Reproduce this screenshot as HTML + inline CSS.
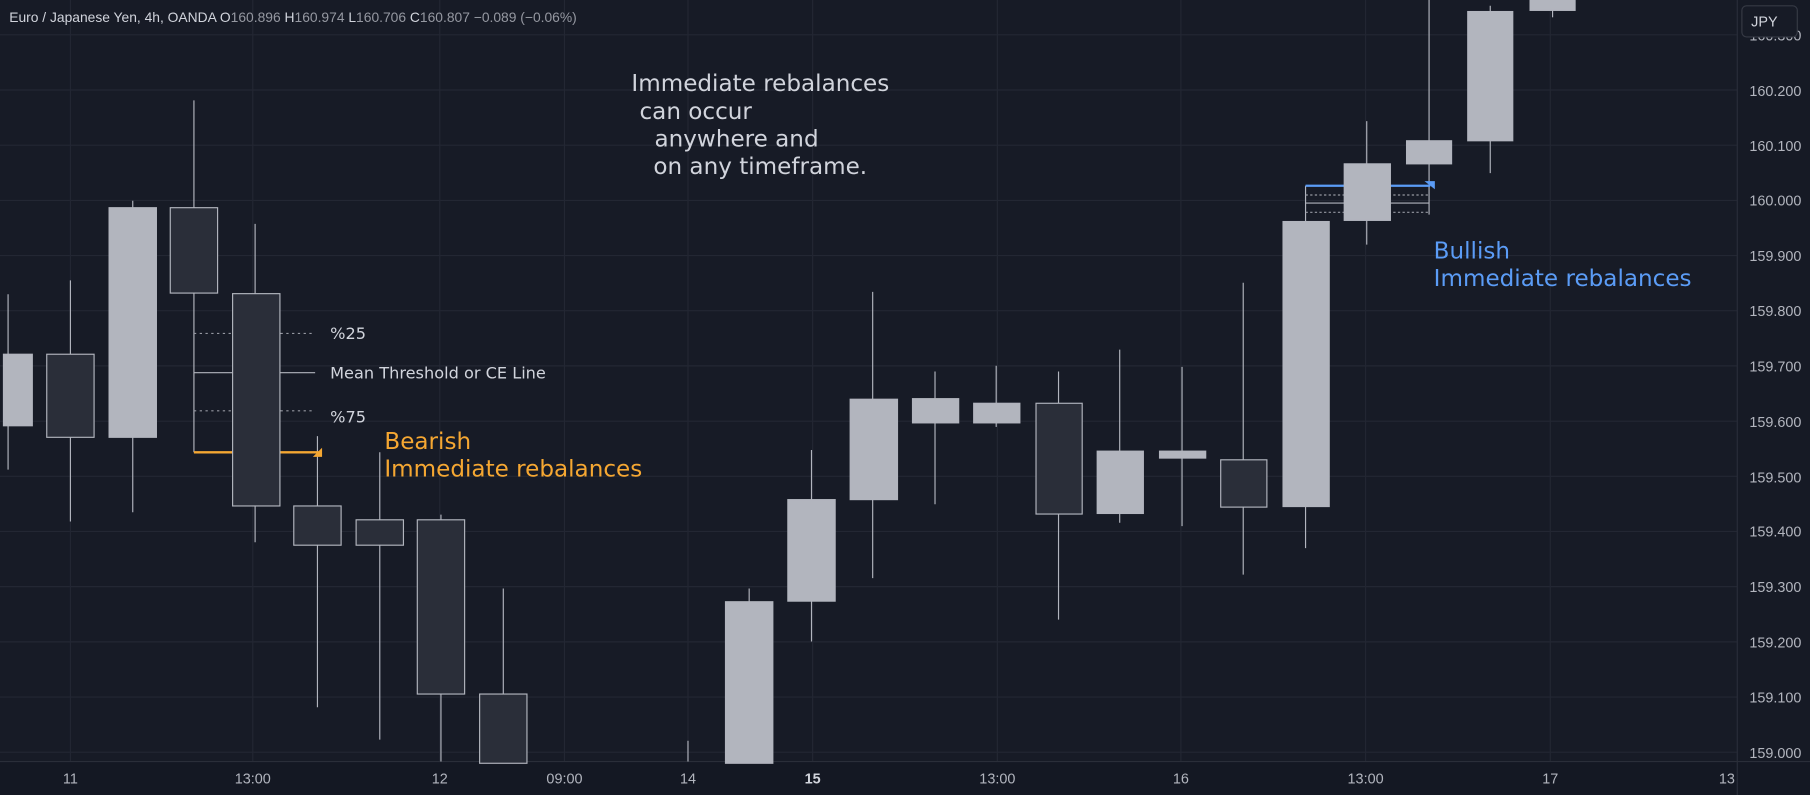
<!DOCTYPE html>
<html><head><meta charset="utf-8"><style>
html,body{margin:0;padding:0;background:#161a25;overflow:hidden}
svg{display:block}
text{font-family:"Liberation Sans","DejaVu Sans",sans-serif}
.dj{font-family:"DejaVu Sans","Liberation Sans",sans-serif}
</style></head><body>
<svg width="1810" height="795" viewBox="0 0 1568 689" preserveAspectRatio="none" xmlns="http://www.w3.org/2000/svg">
<rect x="0" y="0" width="1568" height="689" fill="#171b26"/>
<rect x="1505" y="0" width="63" height="689" fill="#161a25"/>
<rect x="0" y="660" width="1568" height="29" fill="#141823"/>
<g stroke="#232733" stroke-width="1">
<line x1="0" x2="1505" y1="30.2" y2="30.2"/><line x1="0" x2="1505" y1="78" y2="78"/><line x1="0" x2="1505" y1="125.8" y2="125.8"/><line x1="0" x2="1505" y1="173.7" y2="173.7"/><line x1="0" x2="1505" y1="221.5" y2="221.5"/><line x1="0" x2="1505" y1="269.3" y2="269.3"/><line x1="0" x2="1505" y1="317.1" y2="317.1"/><line x1="0" x2="1505" y1="365" y2="365"/><line x1="0" x2="1505" y1="412.8" y2="412.8"/><line x1="0" x2="1505" y1="460.6" y2="460.6"/><line x1="0" x2="1505" y1="508.4" y2="508.4"/><line x1="0" x2="1505" y1="556.3" y2="556.3"/><line x1="0" x2="1505" y1="604.1" y2="604.1"/><line x1="0" x2="1505" y1="651.9" y2="651.9"/>
<line x1="61" x2="61" y1="0" y2="660"/><line x1="219" x2="219" y1="0" y2="660"/><line x1="381" x2="381" y1="0" y2="660"/><line x1="489" x2="489" y1="0" y2="660"/><line x1="596" x2="596" y1="0" y2="660"/><line x1="704" x2="704" y1="0" y2="660"/><line x1="864" x2="864" y1="0" y2="660"/><line x1="1023" x2="1023" y1="0" y2="660"/><line x1="1183" x2="1183" y1="0" y2="660"/><line x1="1343" x2="1343" y1="0" y2="660"/>
</g>
<line x1="0" x2="1568" y1="660" y2="660" stroke="#2a2e39"/>
<line x1="1505" x2="1505" y1="0" y2="689" stroke="#2a2e39"/>
<g stroke="#b2b5be" stroke-width="1">
<line x1="7" x2="7" y1="255" y2="407"/>
<line x1="61" x2="61" y1="243" y2="452"/>
<line x1="115" x2="115" y1="174" y2="444"/>
<line x1="168" x2="168" y1="87" y2="392"/>
<line x1="221" x2="221" y1="194" y2="470"/>
<line x1="275" x2="275" y1="378" y2="613"/>
<line x1="329" x2="329" y1="392" y2="641"/>
<line x1="382" x2="382" y1="446" y2="660"/>
<line x1="436" x2="436" y1="510" y2="660"/>
<line x1="596" x2="596" y1="642" y2="660"/>
<line x1="649" x2="649" y1="510" y2="660"/>
<line x1="703" x2="703" y1="390" y2="556"/>
<line x1="756" x2="756" y1="253" y2="501"/>
<line x1="810" x2="810" y1="322" y2="437"/>
<line x1="863" x2="863" y1="317" y2="370"/>
<line x1="917" x2="917" y1="322" y2="537"/>
<line x1="970" x2="970" y1="303" y2="453"/>
<line x1="1024" x2="1024" y1="318" y2="456"/>
<line x1="1077" x2="1077" y1="245" y2="498"/>
<line x1="1131" x2="1131" y1="161" y2="475"/>
<line x1="1184" x2="1184" y1="105" y2="212"/>
<line x1="1238" x2="1238" y1="0" y2="186"/>
<line x1="1291" x2="1291" y1="5" y2="150"/>
<line x1="1345" x2="1345" y1="0" y2="15"/>
</g>
<g stroke="#9598a1" stroke-width="1">
<line x1="168" x2="273" y1="289" y2="289" stroke-dasharray="2,3"/>
<line x1="168" x2="273" y1="323" y2="323" stroke="#b2b5be"/>
<line x1="168" x2="273" y1="356" y2="356" stroke-dasharray="2,3"/>
<line x1="1131" x2="1238" y1="169" y2="169" stroke-dasharray="2,2"/>
<line x1="1131" x2="1238" y1="176" y2="176" stroke="#b2b5be"/>
<line x1="1131" x2="1238" y1="184" y2="184" stroke-dasharray="2,2"/>
</g>
<line x1="168" x2="276" y1="392" y2="392" stroke="#f5a732" stroke-width="2"/>
<polygon points="271,396 279,388 279,396" fill="#f5a732"/>
<line x1="1131" x2="1239" y1="161" y2="161" stroke="#5b9cf6" stroke-width="2"/>
<polygon points="1234,157 1243,157 1243,164" fill="#5b9cf6"/>
<g stroke="#b2b5be" stroke-width="1">
<rect x="3" y="307" width="25" height="62" fill="#b2b5be"/>
<rect x="40.5" y="307" width="41" height="72" fill="#2a2e39"/>
<rect x="94.5" y="180" width="41" height="199" fill="#b2b5be"/>
<rect x="147.5" y="180" width="41" height="74" fill="#2a2e39"/>
<rect x="201.5" y="254.5" width="41" height="184" fill="#2a2e39"/>
<rect x="254.5" y="438.5" width="41" height="34" fill="#2a2e39"/>
<rect x="308.5" y="450.5" width="41" height="22" fill="#2a2e39"/>
<rect x="361.5" y="450.5" width="41" height="151" fill="#2a2e39"/>
<rect x="415.5" y="601.5" width="41" height="60" fill="#2a2e39"/>
<rect x="628.5" y="521.5" width="41" height="140" fill="#b2b5be"/>
<rect x="682.5" y="433" width="41" height="88" fill="#b2b5be"/>
<rect x="736.5" y="346" width="41" height="87" fill="#b2b5be"/>
<rect x="790.5" y="345.5" width="40" height="21" fill="#b2b5be"/>
<rect x="843.5" y="349.5" width="40" height="17" fill="#b2b5be"/>
<rect x="897.5" y="349.5" width="40" height="96" fill="#2a2e39"/>
<rect x="950.5" y="391" width="40" height="54" fill="#b2b5be"/>
<rect x="1004.5" y="391" width="40" height="6" fill="#b2b5be"/>
<rect x="1057.5" y="398.5" width="40" height="41" fill="#2a2e39"/>
<rect x="1111.5" y="192" width="40" height="247" fill="#b2b5be"/>
<rect x="1164.5" y="142" width="40" height="49" fill="#b2b5be"/>
<rect x="1218.5" y="122" width="39" height="20" fill="#b2b5be"/>
<rect x="1271.5" y="10" width="39" height="112" fill="#b2b5be"/>
<rect x="1325.5" y="-2" width="39" height="11" fill="#b2b5be"/>
</g>
<text x="8" y="19" font-size="12" fill="#d1d4dc">Euro / Japanese Yen, 4h, OANDA <tspan>O</tspan><tspan fill="#9598a1">160.896 </tspan><tspan>H</tspan><tspan fill="#9598a1">160.974 </tspan><tspan>L</tspan><tspan fill="#9598a1">160.706 </tspan><tspan>C</tspan><tspan fill="#9598a1">160.807 −0.089 (−0.06%)</tspan></text>
<g class="dj" font-size="14" fill="#d1d4dc">
<text x="286" y="294" class="dj">%25</text>
<text x="286" y="328" class="dj">Mean Threshold or CE Line</text>
<text x="286" y="366" class="dj">%75</text>
</g>
<g font-size="20" fill="#d1d4dc">
<text class="dj" x="547" y="79">Immediate rebalances</text>
<text class="dj" x="554" y="103">can occur</text>
<text class="dj" x="567" y="127">anywhere and</text>
<text class="dj" x="566" y="151">on any timeframe.</text>
</g>
<g font-size="20" fill="#f5a732">
<text class="dj" x="333" y="389">Bearish</text>
<text class="dj" x="333" y="413">Immediate rebalances</text>
</g>
<g font-size="20" fill="#5b9cf6">
<text class="dj" x="1242" y="224">Bullish</text>
<text class="dj" x="1242" y="248">Immediate rebalances</text>
</g>
<g font-size="12.5" fill="#b2b5be" text-anchor="middle">
<text x="1538" y="35">160.300</text>
<text x="1538" y="83">160.200</text>
<text x="1538" y="131">160.100</text>
<text x="1538" y="178">160.000</text>
<text x="1538" y="226">159.900</text>
<text x="1538" y="274">159.800</text>
<text x="1538" y="322">159.700</text>
<text x="1538" y="370">159.600</text>
<text x="1538" y="418">159.500</text>
<text x="1538" y="465">159.400</text>
<text x="1538" y="513">159.300</text>
<text x="1538" y="561">159.200</text>
<text x="1538" y="609">159.100</text>
<text x="1538" y="657">159.000</text>
</g>
<rect x="1509" y="5" width="48" height="27" rx="4" fill="#171b26" stroke="#363a45"/>
<text x="1517" y="23" font-size="12.5" fill="#d1d4dc">JPY</text>
<g font-size="12.5" fill="#b2b5be" text-anchor="middle">
<text x="61" y="679">11</text><text x="219" y="679">13:00</text><text x="381" y="679">12</text><text x="489" y="679">09:00</text><text x="596" y="679">14</text><text x="704" y="679" font-weight="bold" fill="#d1d4dc">15</text><text x="864" y="679">13:00</text><text x="1023" y="679">16</text><text x="1183" y="679">13:00</text><text x="1343" y="679">17</text><text x="1496" y="679">13</text>
</g>
</svg>
</body></html>
